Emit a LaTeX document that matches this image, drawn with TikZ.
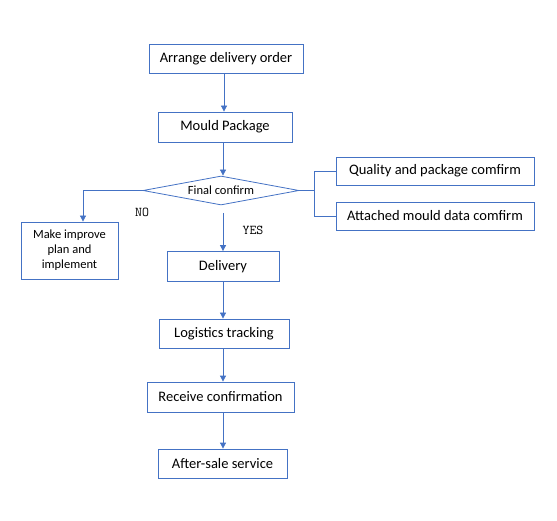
\documentclass[tikz,border=0pt]{standalone}
\usepackage{fontspec}
\setmainfont{Carlito}
\usetikzlibrary{shapes.geometric,arrows.meta}
\definecolor{boxblue}{RGB}{68,114,196}
\tikzset{
	stepbox/.style={rectangle, draw=boxblue, line width=0.8pt, inner sep=1pt, font=\fontsize{14.5}{16}\selectfont},
	smallbox/.style={stepbox, font=\fontsize{12.5}{15}\selectfont, align=center},
	flow/.style={draw=boxblue, line width=0.8pt, -{Triangle[width=6pt,length=6pt]}},
	link/.style={draw=boxblue, line width=0.8pt},
	answer/.style={font=\ttfamily\fontsize{13.5}{14}\selectfont, inner sep=0pt}
}
\begin{document}
\begin{tikzpicture}[x=1pt, y=-1pt]
	\useasboundingbox (0,0) rectangle (557,521);

	\node[stepbox, minimum width=154pt, minimum height=29pt](arrangeBox) at (226,58.5){Arrange delivery order};
	\node[stepbox, minimum width=134pt, minimum height=30pt](mouldBox) at (225,127){Mould Package};
	\node[diamond, shape aspect=5.4, draw=boxblue, line width=0.8pt, inner sep=0pt, minimum width=156pt, minimum height=29pt, font=\fontsize{12.5}{14}\selectfont](confirmBox) at (221,190.5){Final confirm};

	\node[smallbox, minimum width=97pt, minimum height=57pt](improveBox) at (69.5,250.5){Make improve\\plan and\\implement};
	\node[stepbox, minimum width=198pt, minimum height=28pt](qualityBox) at (435,171){Quality and package comfirm};
	\node[stepbox, minimum width=198pt, minimum height=28pt](attachedBox) at (435,216){Attached mould data comfirm};

	\node[stepbox, minimum width=112pt, minimum height=30pt](deliveryBox) at (223,266.5){Delivery};
	\node[stepbox, minimum width=130pt, minimum height=29pt](logisticsBox) at (224,333.5){Logistics tracking};
	\node[stepbox, minimum width=147pt, minimum height=30pt](receiveBox) at (220.5,397){Receive confirmation};
	\node[stepbox, minimum width=129pt, minimum height=29pt](afterBox) at (222.5,463.5){After-sale service};

	\node[answer](noLabel) at (142,212){NO};
	\node[answer](yesLabel) at (253,230){YES};

	\coordinate (fork) at ([xshift=15pt]confirmBox.east);
	\coordinate (yesStart) at (223,213);

	\draw[flow] ([xshift=-2pt]arrangeBox.south) -- ([xshift=-2pt]arrangeBox.south |- mouldBox.north);
	\draw[flow] ([xshift=-2pt]mouldBox.south) -- ([xshift=-2pt]mouldBox.south |- confirmBox.north);
	\draw[flow] (confirmBox.west) -| ([xshift=13.5pt]improveBox.north);
	\draw[flow] (yesStart) -- (yesStart |- deliveryBox.north);
	\draw[flow] (deliveryBox.south) -- (deliveryBox.south |- logisticsBox.north);
	\draw[flow] ([xshift=-1pt]logisticsBox.south) -- ([xshift=-1pt]logisticsBox.south |- receiveBox.north);
	\draw[flow] ([xshift=2.5pt]receiveBox.south) -- ([xshift=2.5pt]receiveBox.south |- afterBox.north);

	\draw[link] (confirmBox.east) -- (fork);
	\draw[link] (qualityBox.west) -| (fork) |- (attachedBox.west);
\end{tikzpicture}
\end{document}
